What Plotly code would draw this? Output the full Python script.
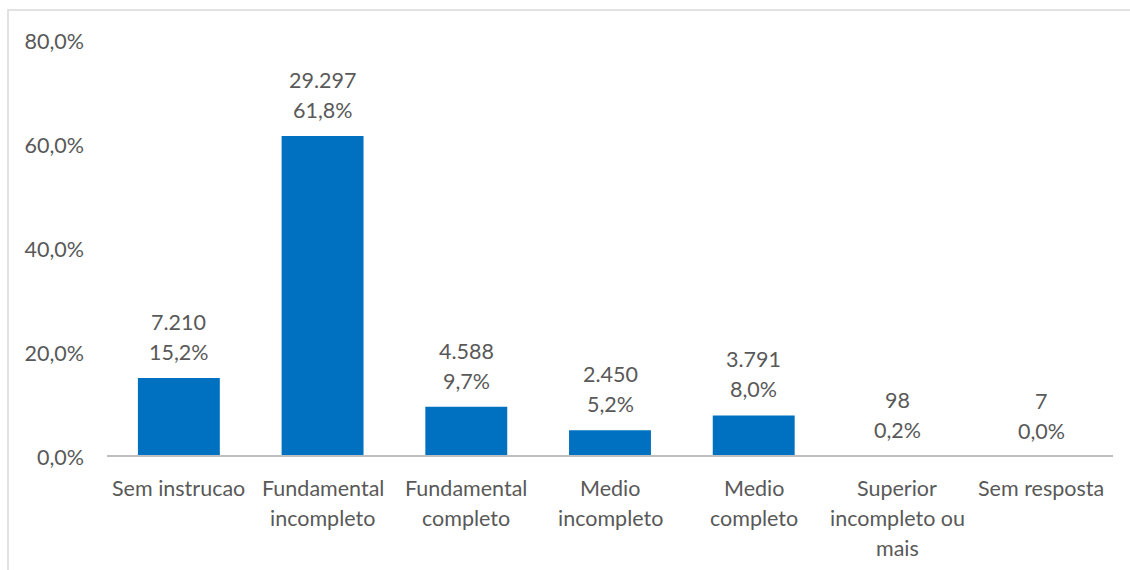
import plotly.graph_objects as go

# Escolaridade: contagem de respostas por categoria
categorias = [
    "Sem instrucao",
    "Fundamental<br>incompleto",
    "Fundamental<br>completo",
    "Medio<br>incompleto",
    "Medio<br>completo",
    "Superior<br>incompleto ou<br>mais",
    "Sem resposta",
]
contagens = [7210, 29297, 4588, 2450, 3791, 98, 7]
y_ticks = [0, 20, 40, 60, 80]
y_tick_labels = ["0,0%", "20,0%", "40,0%", "60,0%", "80,0%"]

total = sum(contagens)
percentuais = [c / total * 100 for c in contagens]


def fmt_int(n):
    return f"{n:,}".replace(",", ".")


def fmt_pct(p):
    return f"{p:.1f}".replace(".", ",") + "%"


TEXT = "#595959"
FONT = "Lato"
SIZE = 21.5
x_idx = list(range(len(categorias)))

fig = go.Figure()
fig.add_trace(go.Bar(
    x=x_idx,
    y=percentuais,
    marker=dict(color="#0070C0", line=dict(width=0)),
    width=0.57,
    hoverinfo="skip",
))

# Rótulos de dados: contagem acima, percentual abaixo
annotations = []
for i, (c, p) in enumerate(zip(contagens, percentuais)):
    annotations.append(dict(x=i, y=p, xref="x", yref="y", text=fmt_pct(p),
                            showarrow=False, yanchor="middle", yshift=26,
                            font=dict(family=FONT, size=SIZE, color=TEXT)))
    annotations.append(dict(x=i, y=p, xref="x", yref="y", text=fmt_int(c),
                            showarrow=False, yanchor="middle", yshift=56,
                            font=dict(family=FONT, size=SIZE, color=TEXT)))

# Rótulos das categorias, linha a linha
for i, cat in enumerate(categorias):
    for j, linha in enumerate(cat.split("<br>")):
        annotations.append(dict(x=i, y=0, xref="x", yref="paper", text=linha,
                                showarrow=False, yanchor="middle",
                                yshift=-31 - 30 * j,
                                font=dict(family=FONT, size=SIZE, color=TEXT)))

fig.update_layout(
    width=1130,
    height=570,
    margin=dict(l=107, r=17, t=41, b=113),
    paper_bgcolor="white",
    plot_bgcolor="white",
    showlegend=False,
    font=dict(family=FONT, size=SIZE, color=TEXT),
    annotations=annotations,
    shapes=[
        # moldura do gráfico
        dict(type="rect", xref="paper", yref="paper",
             x0=-0.0984, x1=1.2, y0=-0.6, y1=1.0745,
             line=dict(color="#D9D9D9", width=1.5), layer="below"),
        # linha de base do eixo das categorias, sobre as barras
        dict(type="line", xref="paper", yref="y", x0=0, x1=1, y0=0, y1=0,
             line=dict(color="#BFBFBF", width=4), layer="above"),
    ],
    xaxis=dict(
        range=[-0.5, len(categorias) - 0.5],
        showticklabels=False,
        showgrid=False,
        zeroline=False,
        showline=False,
        ticks="",
        fixedrange=True,
    ),
    yaxis=dict(
        range=[0, 80],
        tickvals=y_ticks,
        ticktext=y_tick_labels,
        showgrid=False,
        zeroline=False,
        showline=False,
        ticks="",
        ticklabelstandoff=22,
        tickfont=dict(family=FONT, size=SIZE, color=TEXT),
        fixedrange=True,
    ),
)

fig.write_html("out.html")
